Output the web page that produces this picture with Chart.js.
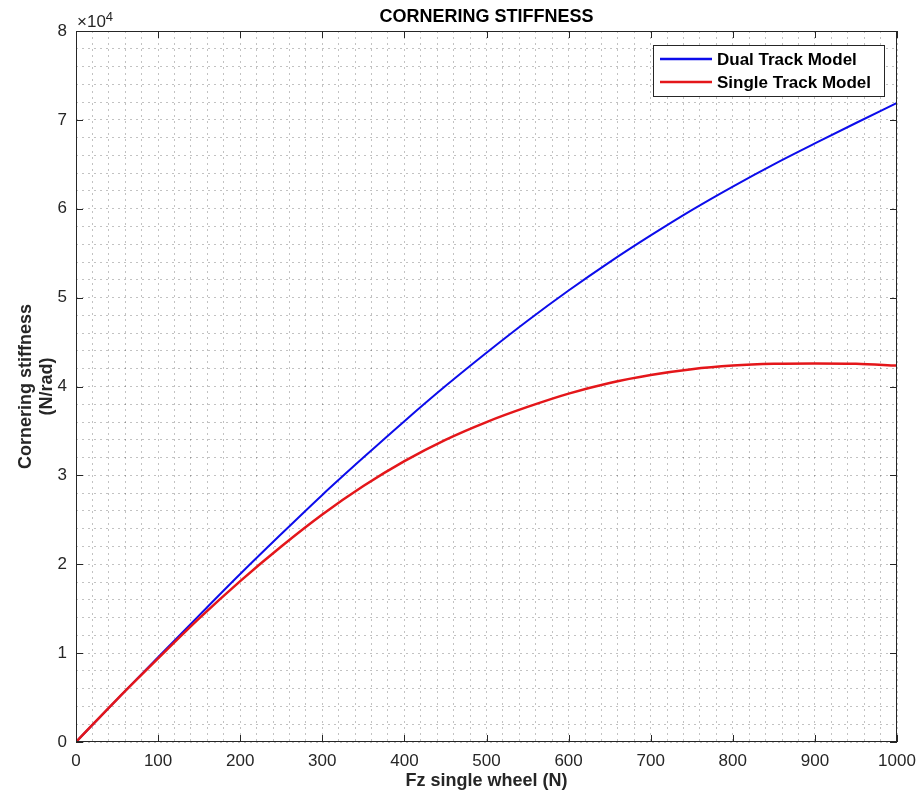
<!DOCTYPE html>
<html>
<head>
<meta charset="utf-8">
<title>Cornering stiffness</title>
<script src="https://cdn.jsdelivr.net/npm/chart.js@4.4.1/dist/chart.umd.min.js"></script>
<style>
  html, body { margin: 0; padding: 0; background: #fff; }
  #wrap { width: 919px; height: 796px; }
</style>
</head>
<body>
<div id="wrap"><canvas id="stiffnessChart" width="919" height="796"></canvas></div>
<script>
// vertical load on one wheel (N)
const fz = [0, 50, 100, 150, 200, 250, 300, 350, 400, 450, 500,
            550, 600, 650, 700, 750, 800, 850, 900, 950, 1000];
// cornering stiffness (N/rad)
const dualTrack = [0, 4800, 9550, 14250, 18900, 23400, 27800, 32000, 36100, 40050, 43800,
                   47400, 50800, 54000, 57000, 59850, 62500, 65000, 67350, 69650, 71900];
const singleTrack = [0, 4800, 9400, 13900, 18100, 22000, 25600, 28800, 31600, 34000, 36000,
                     37700, 39200, 40400, 41300, 41950, 42350, 42550, 42600, 42550, 42350];
const seriesNames = ['Dual Track Model', 'Single Track Model'];
const xMajor = [0, 100, 200, 300, 400, 500, 600, 700, 800, 900, 1000];
const yMajor = [0, 10000, 20000, 30000, 40000, 50000, 60000, 70000, 80000];

const FONT = '"Liberation Sans", Arial, Helvetica, sans-serif';
const INK = '#262626';

const toPoints = (ys) => fz.map((x, i) => ({ x: x, y: ys[i] }));

// 枠線・内向きの目盛り・指数表示・凡例をまとめて描く
const axesFramePlugin = {
  id: 'axesFrame',
  afterDraw(chart) {
    const { ctx, chartArea: a, scales } = chart;
    const tick = 7;
    ctx.save();
    ctx.strokeStyle = INK;
    ctx.lineWidth = 1;
    ctx.strokeRect(a.left + 0.5, a.top + 0.5, a.right - a.left - 1, a.bottom - a.top - 1);

    ctx.beginPath();
    xMajor.forEach(v => {
      const px = Math.round(scales.x.getPixelForValue(v)) + 0.5;
      ctx.moveTo(px, a.bottom); ctx.lineTo(px, a.bottom - tick);
      ctx.moveTo(px, a.top); ctx.lineTo(px, a.top + tick);
    });
    yMajor.forEach(v => {
      const py = Math.round(scales.y.getPixelForValue(v)) + 0.5;
      ctx.moveTo(a.left, py); ctx.lineTo(a.left + tick, py);
      ctx.moveTo(a.right, py); ctx.lineTo(a.right - tick, py);
    });
    ctx.stroke();

    // ×10^4
    ctx.fillStyle = INK;
    ctx.textBaseline = 'alphabetic';
    ctx.textAlign = 'left';
    ctx.font = '17px ' + FONT;
    ctx.fillText('\u00d710', a.left + 1, a.top - 4);
    const w = ctx.measureText('\u00d710').width;
    ctx.font = '13px ' + FONT;
    ctx.fillText('4', a.left + 1 + w, a.top - 10);

    // 凡例
    const bx = 653, by = 45, bw = 231, bh = 51;
    ctx.fillStyle = '#fff';
    ctx.fillRect(bx, by, bw, bh);
    ctx.strokeStyle = INK;
    ctx.strokeRect(bx + 0.5, by + 0.5, bw, bh);
    ctx.font = 'bold 17px ' + FONT;
    ctx.textBaseline = 'middle';
    chart.data.datasets.forEach((ds, i) => {
      const y = by + 14 + i * 23;
      ctx.strokeStyle = ds.borderColor;
      ctx.lineWidth = 2.5;
      ctx.beginPath();
      ctx.moveTo(bx + 7, y); ctx.lineTo(bx + 59, y);
      ctx.stroke();
      ctx.fillStyle = '#000';
      ctx.fillText(ds.label, bx + 64, y + 1);
    });

    // タイトル
    ctx.font = 'bold 18px ' + FONT;
    ctx.textAlign = 'center';
    ctx.fillStyle = '#000';
    ctx.fillText('CORNERING STIFFNESS', (a.left + a.right) / 2, 17);
    ctx.restore();
  }
};

const gridStyle = {
  color: 'rgba(0, 0, 0, 0.24)',
  lineWidth: 1,
  drawTicks: false
};

const stiffnessChart = new Chart(document.getElementById('stiffnessChart'), {
  type: 'line',
  data: {
    datasets: [
      {
        label: seriesNames[0],
        data: toPoints(dualTrack),
        borderColor: 'rgb(12, 12, 235)',
        borderWidth: 2,
        pointRadius: 0,
        cubicInterpolationMode: 'monotone',
        fill: false,
        order: 1
      },
      {
        label: seriesNames[1],
        data: toPoints(singleTrack),
        borderColor: 'rgb(228, 22, 26)',
        borderWidth: 2.5,
        pointRadius: 0,
        cubicInterpolationMode: 'monotone',
        fill: false,
        order: 0
      }
    ]
  },
  options: {
    responsive: false,
    animation: false,
    layout: {
      padding: { top: 31, right: 22, left: 0, bottom: 0 }
    },
    plugins: {
      legend: { display: false },
      title: { display: false },
      tooltip: { enabled: false }
    },
    scales: {
      x: {
        type: 'linear',
        min: 0,
        max: 1000,
        grid: gridStyle,
        border: { display: false, dash: [2, 4] },
        ticks: {
          stepSize: 20,
          autoSkip: false,
          maxRotation: 0,
          padding: 9,
          color: INK,
          font: { family: FONT, size: 17 },
          callback: (v) => (v % 100 === 0 ? String(v) : '')
        },
        title: {
          display: true,
          text: 'Fz single wheel (N)',
          color: INK,
          font: { family: FONT, size: 18, weight: 'bold' },
          padding: { top: 0, bottom: 4 }
        },
        afterFit: (scale) => {
          scale.height = 54;
          scale.paddingLeft = 0;
          scale.paddingRight = 0;
        }
      },
      y: {
        type: 'linear',
        min: 0,
        max: 80000,
        grid: gridStyle,
        border: { display: false, dash: [2, 4] },
        ticks: {
          stepSize: 2000,
          autoSkip: false,
          padding: 9,
          color: INK,
          font: { family: FONT, size: 17 },
          callback: (v) => (v % 10000 === 0 ? String(v / 10000) : '')
        },
        title: {
          display: true,
          text: ['Cornering stiffness', '(N/rad)'],
          color: INK,
          font: { family: FONT, size: 18, weight: 'bold' },
          padding: { top: 15, bottom: 0 }
        },
        afterFit: (scale) => {
          scale.width = 76;
          scale.paddingTop = 0;
          scale.paddingBottom = 0;
        }
      }
    }
  },
  plugins: [axesFramePlugin]
});
</script>
</body>
</html>
